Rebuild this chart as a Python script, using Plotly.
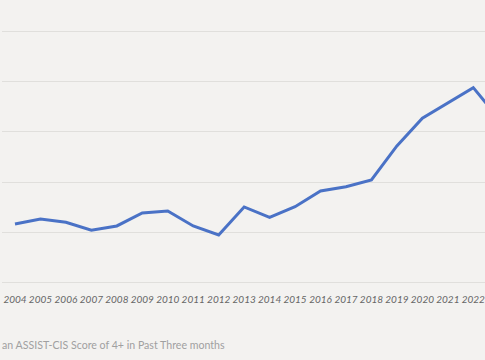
import plotly.graph_objects as go

years = list(range(2004, 2024))
values = [1.164, 1.263, 1.198, 1.038, 1.124, 1.383, 1.423, 1.124, 0.944, 1.503,
          1.297, 1.509, 1.822, 1.908, 2.042, 2.72, 3.273, 3.573, 3.884, 3.27]
tick_years = list(range(2004, 2023))
caption = "an ASSIST-CIS Score of 4+ in Past Three months"

BG = "#f3f2f0"

fig = go.Figure()
fig.add_trace(go.Scatter(
    x=years, y=values, mode="lines",
    line=dict(color="#4a72c6", width=3),
    hoverinfo="skip",
))

fig.update_layout(
    width=485, height=360,
    paper_bgcolor=BG, plot_bgcolor=BG,
    margin=dict(l=2, r=0, t=10, b=70),
    showlegend=False,
    font=dict(family="Lato, sans-serif"),
    xaxis=dict(
        range=[2003.49, 2022.46],
        tickmode="array", tickvals=tick_years,
        ticktext=[f"<i>{y}</i>" for y in tick_years],
        tickfont=dict(size=10, color="#666666"),
        showgrid=False, zeroline=False, showline=False,
        ticks="", ticklabelstandoff=2,
        ticklabeloverflow="allow",
    ),
    yaxis=dict(
        range=[-0.154, 5.433],
        tickvals=[0, 1, 2, 3, 4, 5],
        showticklabels=False,
        gridcolor="#e0dfdc", gridwidth=1,
        zeroline=False, showline=False,
    ),
    annotations=[dict(
        text=caption, xref="paper", yref="paper",
        x=-0.004, y=-0.195, xanchor="left", yanchor="middle",
        showarrow=False, font=dict(size=10.6, color="#a0a0a0"),
    )],
)

fig.write_html(
    "out.html",
    config={"displayModeBar": False},
    post_script="document.body.style.margin='0px';document.body.style.overflow='hidden';",
)
